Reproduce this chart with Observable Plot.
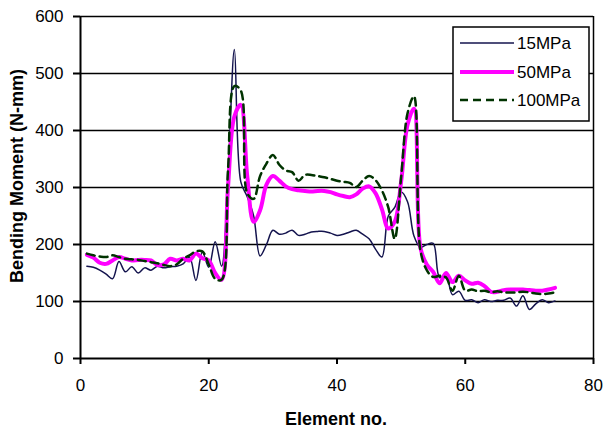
<!DOCTYPE html>
<html>
<head>
<meta charset="utf-8">
<script src="https://cdn.jsdelivr.net/npm/d3@7"></script>
<script src="https://cdn.jsdelivr.net/npm/@observablehq/plot@0.6"></script>
<style>
  html, body { margin: 0; padding: 0; background: white; }
  #chart { width: 605px; height: 428px; }
</style>
</head>
<body>
<div id="chart"></div>
<script>
const elements = [1,2,3,4,5,6,7,8,9,10,11,12,13,14,15,16,17,18,19,20,21,22,23,24,25,26,27,28,29,30,31,32,33,34,35,36,37,38,39,40,41,42,43,44,45,46,47,48,49,50,51,52,53,54,55,56,57,58,59,60,61,62,63,64,65,66,67,68,69,70,71,72,73,74];

const mpa15 = [162,160,155,148,140,170,152,161,150,159,
  155,162,159,161,162,166,178,137,187,160,
  205,162,320,542,310,284,250,180,200,225,
  218,220,225,216,218,222,223,223,220,216,
  218,222,225,218,210,192,178,250,265,292,
  275,215,195,200,202,142,145,112,118,102,
  103,98,103,100,102,102,106,92,110,86,
  96,103,98,101];

const mpa50 = [182,177,168,166,172,178,175,172,173,173,
  172,164,165,175,172,175,172,184,176,172,
  150,138,300,425,445,320,240,260,305,320,
  312,302,297,295,294,293,294,294,292,288,
  285,283,288,298,302,290,262,228,240,310,
  410,438,195,165,152,132,150,134,145,137,
  131,133,127,117,117,120,121,121,121,120,
  119,119,121,124];

const mpa100 = [184,181,179,178,181,178,175,174,173,171,
  169,167,164,162,165,175,181,188,188,165,
  140,138,330,478,470,290,280,320,342,357,
  340,330,327,312,322,322,320,318,315,312,
  310,308,301,312,320,313,295,265,210,318,
  430,460,190,155,143,145,142,119,145,119,
  121,118,119,116,118,116,116,116,117,116,
  114,113,114,116];

const seriesNames = ["15MPa", "50MPa", "100MPa"];
const xTicks = [0, 20, 40, 60, 80];
const yTicks = [0, 100, 200, 300, 400, 500, 600];

const styles = {
  "15MPa": {stroke: "#14144e", strokeWidth: 1.5, dash: null},
  "50MPa": {stroke: "#ff00ff", strokeWidth: 4, dash: null},
  "100MPa": {stroke: "#003300", strokeWidth: 2.5, dash: "8,5"}
};

const valuesBySeries = {"15MPa": mpa15, "50MPa": mpa50, "100MPa": mpa100};
const rows = (name) => elements.map((e, i) => ({element: e, value: valuesBySeries[name][i]}));

const lineMark = (name) => Plot.line(rows(name), {
  x: "element", y: "value",
  stroke: styles[name].stroke,
  strokeWidth: styles[name].strokeWidth,
  strokeDasharray: styles[name].dash,
  curve: "catmull-rom"
});

const chart = Plot.plot({
  width: 605,
  height: 428,
  marginLeft: 80,
  marginRight: 12,
  marginTop: 16,
  marginBottom: 70,
  style: {fontFamily: "'Liberation Sans', Arial, sans-serif", fontSize: "17px", color: "black", background: "white"},
  x: {domain: [0, 80], label: null},
  y: {domain: [0, 600], label: null},
  marks: [
    Plot.ruleY(yTicks.filter(d => d > 0), {stroke: "black", strokeWidth: 1.5}),
    Plot.ruleX([80], {stroke: "black", strokeWidth: 1.5}),
    lineMark("15MPa"),
    lineMark("50MPa"),
    lineMark("100MPa"),
    Plot.ruleX([0], {stroke: "black", strokeWidth: 2}),
    Plot.ruleY([0], {stroke: "black", strokeWidth: 2}),
    Plot.axisX({ticks: xTicks, tickSize: 6, tickPadding: 14, label: null, fontSize: 17, strokeWidth: 2}),
    Plot.axisY({ticks: yTicks, tickSize: 7, tickPadding: 10, label: null, fontSize: 17, strokeWidth: 2})
  ]
});

document.getElementById("chart").appendChild(chart);

const svg = d3.select(chart);
const font = "'Liberation Sans', Arial, sans-serif";

// Axis titles
svg.append("text")
  .attr("x", 336).attr("y", 425)
  .attr("text-anchor", "middle")
  .attr("font-family", font).attr("font-weight", "bold").attr("font-size", 18)
  .attr("fill", "black")
  .text("Element no.");

svg.append("text")
  .attr("transform", "translate(23,176) rotate(-90)")
  .attr("text-anchor", "middle")
  .attr("font-family", font).attr("font-weight", "bold").attr("font-size", 18)
  .attr("fill", "black")
  .text("Bending Moment (N-mm)");

// Legend
const lg = svg.append("g");
lg.append("rect")
  .attr("x", 453).attr("y", 27).attr("width", 136).attr("height", 94)
  .attr("fill", "white").attr("stroke", "black").attr("stroke-width", 1.5);
const rowY = [43, 72, 100];
seriesNames.forEach((name, i) => {
  const s = styles[name];
  lg.append("line")
    .attr("x1", 460).attr("x2", 514)
    .attr("y1", rowY[i]).attr("y2", rowY[i])
    .attr("stroke", s.stroke).attr("stroke-width", s.strokeWidth)
    .attr("stroke-dasharray", s.dash);
  lg.append("text")
    .attr("x", 517).attr("y", rowY[i]).attr("dy", "0.36em")
    .attr("text-anchor", "start")
    .attr("font-family", font).attr("font-size", 17).attr("fill", "black")
    .text(name);
});
</script>
</body>
</html>
